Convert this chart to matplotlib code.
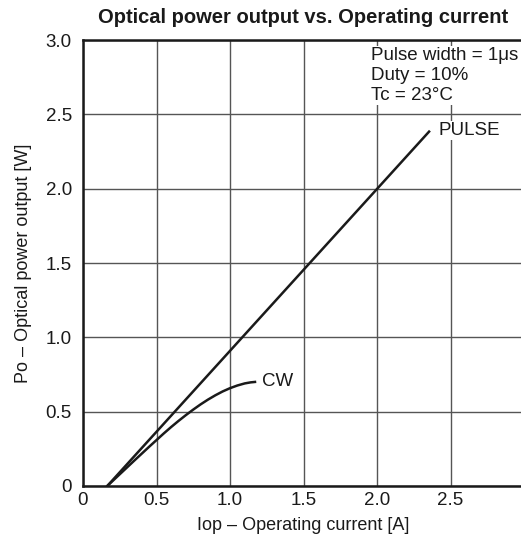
import matplotlib
matplotlib.use("Agg")
from matplotlib import pyplot as plt
import numpy as np

plt.rcParams['font.family'] = ['Liberation Sans', 'DejaVu Sans']

# pulse operation: straight line from threshold
pulse_x = [0.165, 2.36]
pulse_y = [0.0, 2.39]

# CW operation: saturating curve
cw_x = [0.165, 0.25, 0.35, 0.45, 0.55, 0.6, 0.65, 0.7, 0.75, 0.8, 0.85, 0.9,
        0.95, 1.0, 1.05, 1.1, 1.14, 1.17]
cw_y = [0.0, 0.079, 0.172, 0.264, 0.354, 0.397, 0.438, 0.477, 0.514, 0.549,
        0.581, 0.61, 0.636, 0.658, 0.676, 0.69, 0.697, 0.70]

xticks = [0, 0.5, 1.0, 1.5, 2.0, 2.5]
xtick_labels = ["0", "0.5", "1.0", "1.5", "2.0", "2.5"]
yticks = [0, 0.5, 1.0, 1.5, 2.0, 2.5, 3.0]
ytick_labels = ["0", "0.5", "1.0", "1.5", "2.0", "2.5", "3.0"]

fig = plt.figure(figsize=(5.21, 5.44), dpi=100)
ax = fig.add_axes([83/521, 58/544, 441/521, 446/544])

ax.plot(pulse_x, pulse_y, color='#1a1a1a', lw=1.8, solid_capstyle='butt', zorder=3)
ax.plot(cw_x, cw_y, color='#1a1a1a', lw=1.8, solid_joinstyle='round', zorder=3)

ax.set_xlim(0, 3.0)
ax.set_ylim(0, 3.0)
ax.set_xticks(xticks)
ax.set_xticklabels(xtick_labels)
ax.set_yticks(yticks)
ax.set_yticklabels(ytick_labels)
ax.tick_params(length=0, labelsize=13.5, colors='#1a1a1a')
ax.tick_params(axis='x', pad=4)
ax.tick_params(axis='y', pad=8)
ax.grid(True, color='#555555', lw=1.0)
ax.set_axisbelow(True)
for s in ax.spines.values():
    s.set_linewidth(1.8)
    s.set_color('#1a1a1a')

ax.text(2.63, 2.39, "PULSE", fontsize=13.5, ha='center', va='center', color='#1a1a1a',
        bbox=dict(facecolor='white', edgecolor='none', pad=1), zorder=4)
ax.text(1.22, 0.70, "CW", fontsize=13.5, ha='left', va='center', color='#1a1a1a', zorder=4)
ax.text(1.96, 2.95, "Pulse width = 1\u03bcs\nDuty = 10%\nTc = 23\u00b0C", fontsize=13.5,
        ha='left', va='top', color='#1a1a1a', linespacing=1.2,
        bbox=dict(facecolor='white', edgecolor='none', pad=1), zorder=4)

ax.set_title("Optical power output vs. Operating current", fontsize=14.5,
             fontweight='bold', pad=12, color='#1a1a1a')
ax.set_xlabel("Iop \u2013 Operating current [A]", fontsize=13, labelpad=6, color='#1a1a1a')
ax.set_ylabel("Po \u2013 Optical power output [W]", fontsize=13, labelpad=10, color='#1a1a1a')

fig.savefig("out.png", dpi=100)
